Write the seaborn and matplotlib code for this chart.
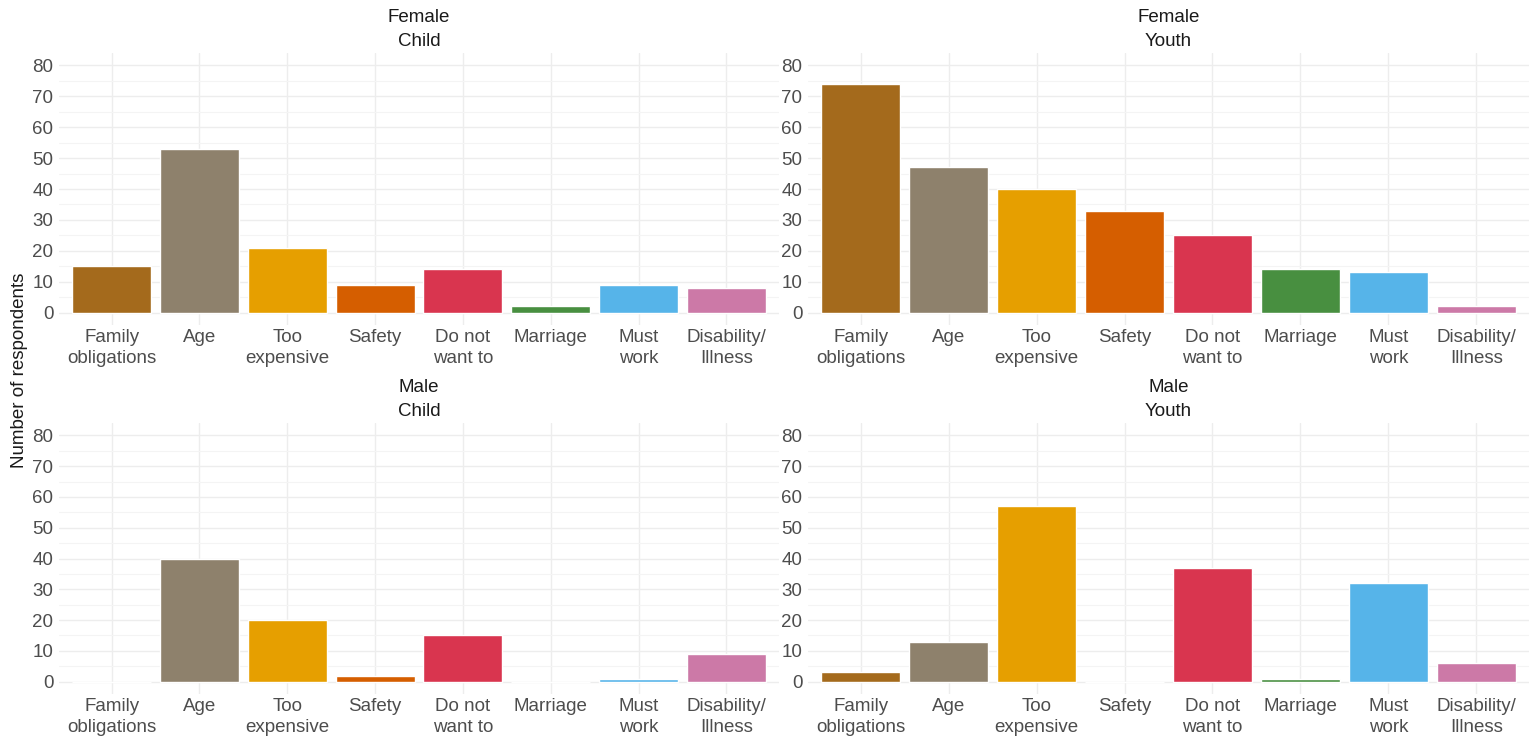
"""Reasons for not attending school, by gender and age group (faceted bar chart)."""

import matplotlib

matplotlib.use("Agg")
import matplotlib.pyplot as plt
import numpy as np
import pandas as pd
import seaborn as sns

reasons = [
    "Family\nobligations",
    "Age",
    "Too\nexpensive",
    "Safety",
    "Do not\nwant to",
    "Marriage",
    "Must\nwork",
    "Disability/\nIllness",
]
reason_colors = ["#A46A1C", "#8E816C", "#E69F00", "#D55E00", "#D9354F", "#488F40", "#56B4E9", "#CC79A7"]

female_child = [15, 53, 21, 9, 14, 2, 9, 8]
female_youth = [74, 47, 40, 33, 25, 14, 13, 2]
male_child = [0, 40, 20, 2, 15, 0, 1, 9]
male_youth = [3, 13, 57, 0, 37, 1, 32, 6]

panels = [
    ("Female", "Child", female_child),
    ("Female", "Youth", female_youth),
    ("Male", "Child", male_child),
    ("Male", "Youth", male_youth),
]

rows = []
for gender, group, counts in panels:
    for reason, n in zip(reasons, counts):
        rows.append({"gender": gender, "group": group, "reason": reason, "count": n})
df = pd.DataFrame(rows)

sns.set_theme(style="whitegrid")
plt.rcParams["font.family"] = ["Liberation Sans", "DejaVu Sans"]

W, H = 1530, 740
fig = plt.figure(figsize=(W / 100, H / 100), dpi=100)


def px_axes(x0, y0, x1, y1):
    return fig.add_axes([x0 / W, 1 - y1 / H, (x1 - x0) / W, (y1 - y0) / H])


boxes = [(59, 53, 779, 325), (808, 53, 1529, 325), (59, 423, 779, 694), (808, 423, 1529, 694)]
palette = dict(zip(reasons, reason_colors))

for (gender, group, _), box in zip(panels, boxes):
    ax = px_axes(*box)
    d = df[(df["gender"] == gender) & (df["group"] == group)]
    sns.barplot(
        data=d, x="reason", y="count", hue="reason", order=reasons, hue_order=reasons,
        palette=palette, width=0.9, legend=False, saturation=1, ax=ax, zorder=3,
    )
    ax.set_xlim(-0.6, len(reasons) - 0.4)
    ax.set_ylim(-4, 84)
    ax.set_yticks(np.arange(0, 81, 10))
    ax.set_yticks(np.arange(5, 80, 10), minor=True)
    ax.grid(True, which="major", color="#EDEDED", linewidth=1.0, zorder=0)
    ax.grid(True, which="minor", axis="y", color="#F4F4F4", linewidth=0.8, zorder=0)
    for s in ax.spines.values():
        s.set_visible(False)
    ax.tick_params(which="both", length=0, labelsize=13.5, labelcolor="#4D4D4D")
    ax.tick_params(axis="x", pad=3)
    ax.tick_params(axis="y", pad=4)
    for lab in ax.get_xticklabels():
        lab.set_linespacing(1.3)
    ax.set_xlabel("")
    ax.set_ylabel("")
    ax.set_title(f"{gender}\n{group}", fontsize=13.5, color="#1A1A1A", pad=5, linespacing=1.55)

fig.text(20 / W, 0.5, "Number of respondents", rotation=90, ha="center", va="center",
         fontsize=13.5, color="#1A1A1A")

fig.savefig("out.png", dpi=100, facecolor="white")
